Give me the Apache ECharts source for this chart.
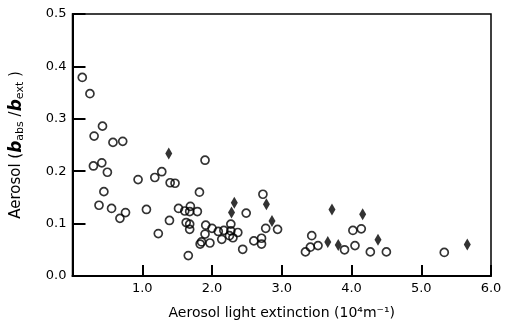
<!DOCTYPE html>
<html>
<head>
<meta charset="utf-8">
<script src="https://cdn.jsdelivr.net/npm/echarts@6/dist/echarts.min.js"></script>
<style>
  html, body { margin: 0; padding: 0; background: #fff; }
  #chart { width: 507px; height: 325px; }
</style>
</head>
<body>
<div id="chart"></div>
<script>
// open circles: [extinction (10^4 m^-1), b_abs/b_ext]
const circles = [
  [0.14, 0.379], [0.25, 0.348], [0.31, 0.267], [0.43, 0.286], [0.58, 0.255],
  [0.72, 0.257], [0.30, 0.210], [0.42, 0.216], [0.50, 0.198], [0.45, 0.161],
  [0.38, 0.135], [0.56, 0.129], [0.68, 0.110], [0.76, 0.121], [0.94, 0.184],
  [1.06, 0.127], [1.18, 0.188], [1.28, 0.199], [1.23, 0.081], [1.40, 0.178],
  [1.47, 0.177], [1.39, 0.106], [1.52, 0.129], [1.61, 0.124], [1.69, 0.133],
  [1.68, 0.123], [1.79, 0.123], [1.82, 0.160], [1.90, 0.221], [1.63, 0.102],
  [1.68, 0.099], [1.68, 0.089], [1.91, 0.097], [2.00, 0.091], [1.90, 0.080],
  [2.09, 0.085], [2.17, 0.087], [1.85, 0.065], [1.83, 0.061], [1.97, 0.063],
  [2.14, 0.070], [2.25, 0.077], [1.66, 0.039], [2.27, 0.099], [2.27, 0.086],
  [2.37, 0.083], [2.30, 0.073], [2.49, 0.120], [2.44, 0.051], [2.60, 0.067],
  [2.71, 0.072], [2.71, 0.061], [2.73, 0.156], [2.77, 0.091], [2.94, 0.089],
  [3.43, 0.077], [3.41, 0.055], [3.52, 0.058], [3.34, 0.046], [3.90, 0.050],
  [4.02, 0.087], [4.14, 0.090], [4.05, 0.058], [4.27, 0.046], [4.50, 0.046],
  [5.33, 0.045]
]

// filled diamonds
const diamonds = [
  [1.38, 0.234], [2.32, 0.140], [2.28, 0.121], [2.78, 0.137], [2.86, 0.105],
  [3.72, 0.127], [3.66, 0.065], [3.81, 0.059], [4.16, 0.118], [4.38, 0.069],
  [5.66, 0.060]
]

const xTicks = [0, 1, 2, 3, 4, 5, 6]
const yTicks = [0, 0.1, 0.2, 0.3, 0.4, 0.5]

const ink = '#000'
const font = 'DejaVu Sans'

const chart = echarts.init(document.getElementById('chart'))
chart.setOption({
  animation: false,
  grid: {
    left: 68, right: 16, top: 14, bottom: 48,
    show: true, borderColor: ink, borderWidth: 1.5, backgroundColor: 'transparent'
  },
  xAxis: {
    type: 'value',
    min: xTicks[0], max: xTicks[xTicks.length - 1], interval: 1,
    name: 'Aerosol light extinction (10⁴m⁻¹)',
    nameLocation: 'middle', nameGap: 30,
    nameTextStyle: { color: ink, fontSize: 14, fontFamily: font },
    axisLine: { lineStyle: { color: ink, width: 2 } },
    axisTick: { show: true, inside: true, length: 11, lineStyle: { color: ink, width: 2 } },
    axisLabel: {
      color: ink, fontSize: 13, fontFamily: font, margin: 6,
      formatter: v => (v === 0 ? '' : v.toFixed(1))
    },
    splitLine: { show: false }
  },
  yAxis: {
    type: 'value',
    min: yTicks[0], max: yTicks[yTicks.length - 1], interval: 0.1,
    name: '{n|Aerosol (}{b|b}{s|abs}{n| /}{b|b}{s|ext}{n| )}',
    nameLocation: 'middle', nameGap: 47, nameRotate: 90,
    nameTextStyle: {
      color: ink, fontFamily: font,
      rich: {
        n: { fontSize: 15, color: ink, fontFamily: font },
        b: { fontSize: 17, color: ink, fontFamily: font, fontWeight: 'bold', fontStyle: 'italic' },
        s: { fontSize: 11, color: ink, fontFamily: font, verticalAlign: 'bottom', padding: [7, 0, 0, 0] }
      }
    },
    axisLine: { show: true, lineStyle: { color: ink, width: 2 } },
    axisTick: { show: true, inside: true, length: 13, lineStyle: { color: ink, width: 2 } },
    axisLabel: {
      color: ink, fontSize: 13, fontFamily: font, margin: 6,
      formatter: v => v.toFixed(1)
    },
    splitLine: { show: false }
  },
  series: [
    {
      type: 'scatter',
      data: circles,
      symbol: 'circle',
      symbolSize: 8,
      itemStyle: { color: 'transparent', borderColor: ink, borderWidth: 1.7 }
    },
    {
      type: 'scatter',
      data: diamonds,
      symbol: 'diamond',
      symbolSize: [7, 12],
      itemStyle: { color: ink }
    }
  ]
})
</script>
</body>
</html>
